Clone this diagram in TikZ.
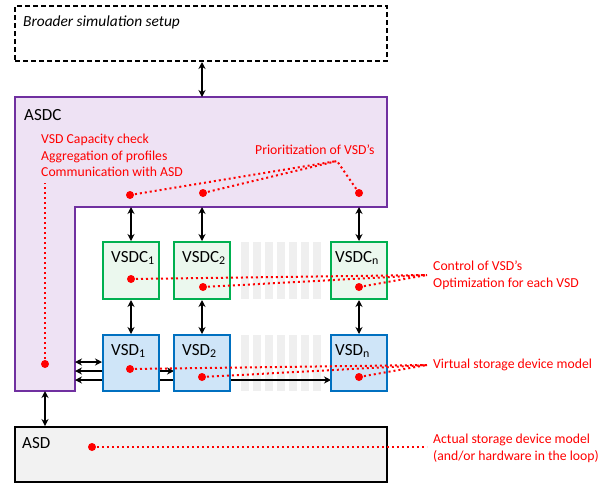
\documentclass[tikz,border=0pt]{standalone}
\usepackage{fontspec}
\setmainfont{Carlito}
\usetikzlibrary{arrows.meta}
\definecolor{asdcfill}{HTML}{EEE2F4}
\definecolor{asdcdraw}{HTML}{7030A0}
\definecolor{vsdcfill}{HTML}{EBF8EE}
\definecolor{vsdcdraw}{HTML}{00B050}
\definecolor{vsdfill}{HTML}{CFE5F8}
\definecolor{vsddraw}{HTML}{0070C0}
\definecolor{asdfill}{HTML}{F2F2F2}
\definecolor{stripe}{HTML}{EFEFEF}
\definecolor{notered}{HTML}{FF0000}
\begin{document}
\begin{tikzpicture}[x=1pt,y=-1pt,
  vsdcbox/.style={draw=vsdcdraw,fill=vsdcfill,line width=2pt,minimum width=56pt,minimum height=57pt,inner sep=0pt},
  vsdbox/.style={draw=vsddraw,fill=vsdfill,line width=2pt,minimum width=56pt,minimum height=56pt,inner sep=0pt},
  boxlabel/.style={anchor=west,inner sep=0pt,font=\fontsize{17}{20}\selectfont},
  note/.style={anchor=west,inner sep=0pt,text=notered,font=\fontsize{13.7}{16.7}\selectfont,align=left},
  link/.style={<->,>={Stealth[length=7pt,width=7pt]},line width=1.8pt},
  dotline/.style={draw=notered,line width=2pt,dash pattern=on 2pt off 3pt},
  reddot/.style={circle,fill=notered,inner sep=0pt,minimum size=8pt},
]
\useasboundingbox (0,0) rectangle (616,483);

% broader simulation setup
\node[draw,line width=2pt,dash pattern=on 5pt off 3pt,minimum width=372pt,minimum height=55pt,inner sep=0pt] (bss) at (201,33.5) {};
\node[boxlabel,font=\fontsize{15.4}{18}\selectfont\itshape] (tbss) at (23,22) {Broader simulation setup};

% ASDC (L-shape)
\draw[draw=asdcdraw,fill=asdcfill,line width=2pt] (15,97) -- (387,97) -- (387,207) -- (75,207) -- (75,391) -- (15,391) -- cycle;
\coordinate (asdcTop) at (202,97);
\coordinate (asdcStep) at (200,207);
\coordinate (asdcBot) at (45,391);
\coordinate (asdcA) at (75,362);
\coordinate (asdcB) at (75,371);
\coordinate (asdcC) at (75,380);
\node[boxlabel] (tasdc) at (24,115) {ASDC};

% ASD
\node[draw,fill=asdfill,line width=2pt,minimum width=372pt,minimum height=55pt,inner sep=0pt] (asd) at (201,454.5) {};
\node[boxlabel] (tasd) at (22,443) {ASD};

% stripes
\foreach \i in {0,...,6} {
  \fill[stripe] (241+12*\i,242) rectangle ++(8,57);
  \fill[stripe] (241+12*\i,335) rectangle ++(8,56);
}

% coordinates of boxes (for long arrows drawn behind boxes)
\coordinate (d2w) at (174,363);
\coordinate (dnw) at (331,363);
\draw[link,line width=2.2pt] (asdcB) -- (asdcB -| d2w);
\draw[link,line width=2.2pt] (asdcC) -- (asdcC -| dnw);

% VSDC boxes
\node[vsdcbox] (c1) at (131,270.5) {};
\node[vsdcbox] (c2) at (202,270.5) {};
\node[vsdcbox] (cn) at (359,270.5) {};
\node[boxlabel] (tc1) at (111,258) {VSDC\textsubscript{1}};
\node[boxlabel] (tc2) at (182,258) {VSDC\textsubscript{2}};
\node[boxlabel] (tcn) at (335,258) {VSDC\textsubscript{n}};

% VSD boxes
\node[vsdbox] (d1) at (131,363) {};
\node[vsdbox] (d2) at (202,363) {};
\node[vsdbox] (dn) at (359,363) {};
\node[boxlabel] (td1) at (111,351) {VSD\textsubscript{1}};
\node[boxlabel] (td2) at (182,351) {VSD\textsubscript{2}};
\node[boxlabel] (tdn) at (335,351) {VSD\textsubscript{n}};

% arrows
\draw[link] (bss.south -| asdcTop) -- (asdcTop);
\draw[link] (asdcStep -| c1.north) -- (c1.north);
\draw[link] (asdcStep -| c2.north) -- (c2.north);
\draw[link] (asdcStep -| cn.north) -- (cn.north);
\draw[link] (c1.south) -- (d1.north);
\draw[link] (c2.south) -- (d2.north);
\draw[link] (cn.south) -- (dn.north);
\draw[link] (asdcA) -- (asdcA -| d1.west);
\draw[link] (asdcBot) -- (asdcBot |- asd.north);

% red notes
\node[note] (n1) at (41,155.5) {VSD Capacity check\\Aggregation of profiles\\Communication with ASD};
\node[note] (n2) at (255,150) {Prioritization of VSD’s};
\node[note] (n3) at (433,275) {Control of VSD’s\\Optimization for each VSD};
\node[note] (n4) at (433,365) {Virtual storage device model};
\node[note] (n5) at (433,448) {Actual storage device model\\(and/or hardware in the loop)};

% convergence points
\coordinate (q1) at (337,161);
\coordinate (qL) at (45,183);
\coordinate (q3) at (427,275);
\coordinate (q4) at (427,365);
\coordinate (q5) at (427,447);

% dots
\coordinate (p1) at (130,195);
\coordinate (p2) at (203,193);
\coordinate (p3) at (359,193);
\coordinate (pL) at (45,364);
\coordinate (r1) at (131,279);
\coordinate (r2) at (203,287);
\coordinate (r3) at (359,287);
\coordinate (s1) at (130,369);
\coordinate (s2) at (202,377);
\coordinate (s3) at (359,377);
\coordinate (u1) at (92,447);

\draw[dotline] (p1) -- (q1);
\draw[dotline] (p2) -- (q1);
\draw[dotline] (p3) -- (q1);
\draw[dotline] (pL) -- (qL);
\draw[dotline] (r1) -- (q3);
\draw[dotline] (r2) -- (q3);
\draw[dotline] (r3) -- (q3);
\draw[dotline] (s1) -- (q4);
\draw[dotline] (s2) -- (q4);
\draw[dotline] (s3) -- (q4);
\draw[dotline] (u1) -- (q5);

\foreach \p in {p1,p2,p3,pL,r1,r2,r3,s1,s2,s3,u1}
  \node[reddot] (dot-\p) at (\p) {};
\end{tikzpicture}
\end{document}
